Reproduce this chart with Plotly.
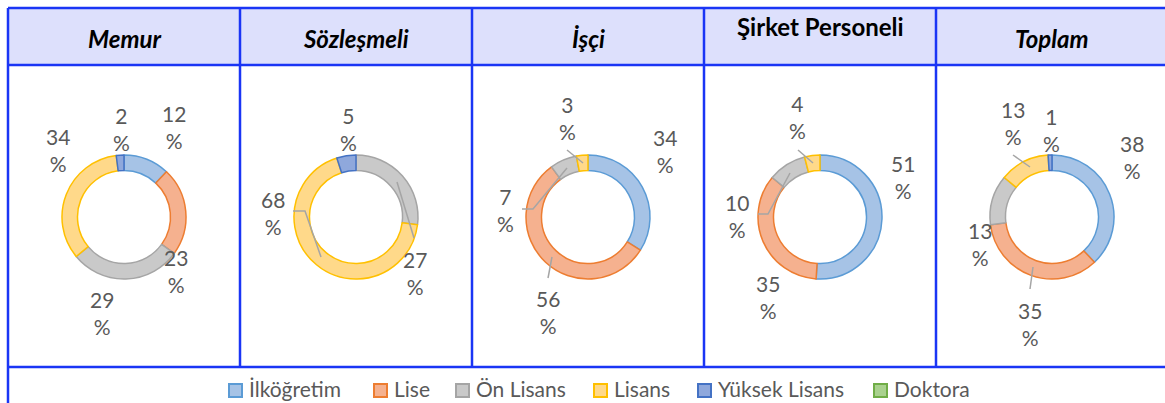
import plotly.graph_objects as go

W, H = 1165, 403

# ---------------- data ----------------
categories = ["İlköğretim", "Lise", "Ön Lisans", "Lisans", "Yüksek Lisans", "Doktora"]
groups = ["Memur", "Sözleşmeli", "İşçi", "Şirket Personeli", "Toplam"]
memur = [12, 23, 29, 34, 2, 0]
sozlesmeli = [0, 0, 27, 68, 5, 0]
isci = [34, 56, 7, 3, 0, 0]
sirket = [51, 35, 10, 4, 0, 0]
toplam = [38, 35, 13, 13, 1, 0]
series = [memur, sozlesmeli, isci, sirket, toplam]

# ---------------- styles ----------------
fill_colors = ["#a6c3e6", "#f5b18f", "#c9c9c9", "#ffd98a", "#8fa8dc", "#a9d18e"]
line_colors = ["#5b9bd5", "#ed7d31", "#a5a5a5", "#ffc000", "#4472c4", "#70ad47"]
border = "#1a35f5"
header_fill = "#dde0fc"
label_color = "#595959"
font_family = "Lato, 'Open Sans', sans-serif"

col_edges = [8, 240, 472, 704, 936, 1168]
top_y, head_y, row_y = 8, 65, 367
donut_cy, donut_r = 217, 62

# label positions (pixel) for non-zero slices, in category order
label_pos = [
    [(174, 127), (176, 271), (102, 313), (58, 150), (121, 129)],
    [(415, 273), (273, 213), (348, 129)],
    [(665, 151), (548, 312), (505, 210), (567, 118)],
    [(903, 177), (768, 297), (737, 216), (797, 117)],
    [(1132, 157), (1030, 324), (980, 244), (1013, 123), (1051, 130)],
]
leaders = [
    [],
    [[(293, 211), (305, 211), (321, 257)], [(397, 182), (414, 238)]],
    [[(567, 150), (583, 163)], [(522, 209), (533, 209), (567, 168)], [(548, 278), (552, 257)]],
    [[(798, 150), (813, 163)], [(758, 214), (768, 214), (790, 173)]],
    [[(1013, 155), (1030, 167)], [(1030, 289), (1033, 267)]],
]
legend_x = [228, 373, 455, 593, 697, 873]


def px(x):
    return x / W


def py(y):
    return 1 - y / H


fig = go.Figure()
shapes = []
annotations = []

# header background
shapes.append(dict(type="rect", xref="paper", yref="paper", x0=px(col_edges[0]), x1=px(W + 5),
                   y0=py(head_y), y1=py(top_y), fillcolor=header_fill, line=dict(width=0), layer="below"))

for i, (g, vals) in enumerate(zip(groups, series)):
    cx = (col_edges[i] + col_edges[i + 1]) / 2
    keep = [k for k, v in enumerate(vals) if v > 0]
    fig.add_trace(go.Pie(
        labels=[categories[k] for k in keep], values=[vals[k] for k in keep],
        hole=0.75, sort=False, direction="clockwise",
        rotation=0, textinfo="none", hoverinfo="label+value", showlegend=False,
        marker=dict(colors=[fill_colors[k] for k in keep],
                    line=dict(color=[line_colors[k] for k in keep], width=1.5)),
        domain=dict(x=[px(cx - donut_r), px(cx + donut_r)],
                    y=[py(donut_cy + donut_r), py(donut_cy - donut_r)]),
    ))
    # header text
    italic = g != "Şirket Personeli"
    hy = 38 if italic else 27
    txt = f"<b><i>{g}</i></b>" if italic else f"<b>{g}</b>"
    annotations.append(dict(x=px(cx), y=py(hy), xref="paper", yref="paper", text=txt, showarrow=False,
                            font=dict(family=font_family, size=24, color="#000000"),
                            xanchor="center", yanchor="middle"))
    # data labels
    nz = [v for v in vals if v > 0]
    for v, (lx, ly) in zip(nz, label_pos[i]):
        annotations.append(dict(x=px(lx), y=py(ly), xref="paper", yref="paper", text=f"{v}<br>%",
                                showarrow=False, font=dict(family=font_family, size=21, color=label_color),
                                xanchor="center", yanchor="middle", align="center"))
    for pts in leaders[i]:
        path = "M " + " L ".join(f"{px(x)},{py(y)}" for x, y in pts)
        shapes.append(dict(type="path", xref="paper", yref="paper", path=path,
                           line=dict(color="#a5a5a5", width=1.5)))

# table lines
for y in (top_y, head_y, row_y):
    shapes.append(dict(type="line", xref="paper", yref="paper", x0=px(col_edges[0]), x1=px(W + 5),
                       y0=py(y), y1=py(y), line=dict(color=border, width=2.5)))
for j, x in enumerate(col_edges[:-1]):
    y_end = H + 5 if j == 0 else row_y
    shapes.append(dict(type="line", xref="paper", yref="paper", x0=px(x), x1=px(x),
                       y0=py(top_y), y1=py(y_end), line=dict(color=border, width=2.5)))

# legend
for c, fc, lc, lx in zip(categories, fill_colors, line_colors, legend_x):
    shapes.append(dict(type="rect", xref="paper", yref="paper", x0=px(lx + 1), x1=px(lx + 14),
                       y0=py(397), y1=py(384), fillcolor=fc, line=dict(color=lc, width=2)))
    annotations.append(dict(x=px(lx + 19), y=py(388), xref="paper", yref="paper", text=c, showarrow=False,
                            font=dict(family=font_family, size=21, color=label_color),
                            xanchor="left", yanchor="middle"))

fig.update_layout(width=W, height=H, margin=dict(l=0, r=0, t=0, b=0),
                  paper_bgcolor="white", plot_bgcolor="white",
                  shapes=shapes, annotations=annotations)
fig.write_html("out.html", config={"displayModeBar": False},
               post_script="document.body.style.margin='0';document.body.style.overflow='hidden';")
